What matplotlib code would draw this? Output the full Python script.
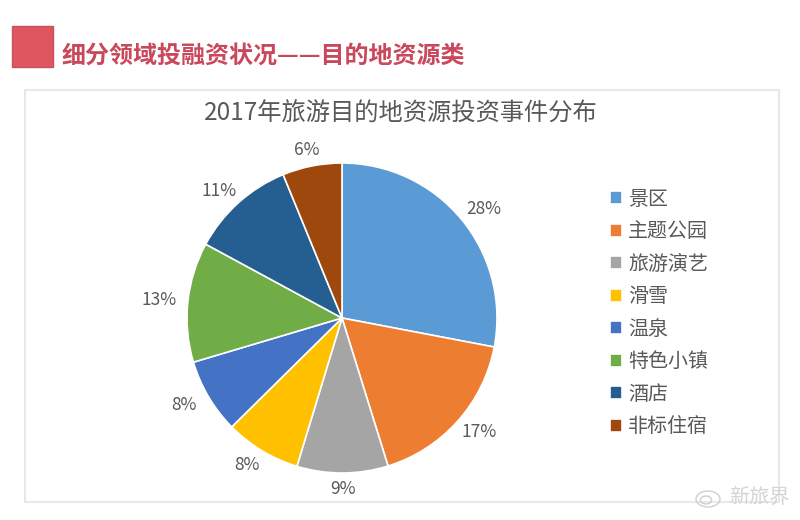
import matplotlib
matplotlib.use("Agg")
import matplotlib.pyplot as plt
from matplotlib.patches import Rectangle, Ellipse

plt.rcParams['font.family'] = ['Noto Sans CJK SC', 'DejaVu Sans']

categorias = ["景区", "主题公园", "旅游演艺", "滑雪", "温泉", "特色小镇", "酒店", "非标住宿"]
# share medido en la imagen, etiquetas como estan impresas
valores = [28.0, 17.2, 9.5, 7.9, 7.8, 12.5, 10.9, 6.2]
etiquetas = ["28%", "17%", "9%", "8%", "8%", "13%", "11%", "6%"]
colores = ["#5B9BD5", "#ED7D31", "#A5A5A5", "#FFC000", "#4472C4", "#70AD47", "#255E91", "#9E480E"]

titulo_pagina = "细分领域投融资状况——目的地资源类"
titulo_grafico = "2017年旅游目的地资源投资事件分布"
marca_agua = "新旅界"

W, H = 800, 520

fig = plt.figure(figsize=(W / 100, H / 100), dpi=100, facecolor="white")

# capa de fondo en pixeles (y hacia abajo)
fondo = fig.add_axes([0, 0, 1, 1])
fondo.set_xlim(0, W)
fondo.set_ylim(H, 0)
fondo.axis("off")

fondo.add_patch(Rectangle((12, 26), 41, 41, facecolor="#DF5560", edgecolor="#C9505C", linewidth=1))
fondo.text(62, 56, titulo_pagina, fontsize=17.3, fontweight="bold", color="#C9485B", ha="left", va="center")

# marco del grafico
fondo.add_patch(Rectangle((25, 90), 754, 412, facecolor="white", edgecolor="#E8E8E8", linewidth=1.5))
fondo.text(401, 114, titulo_grafico, fontsize=17.5, color="#595959", ha="center", va="center")

# torta
cx, cy, r = 342, 318, 155
ax = fig.add_axes([(cx - r) / W, (H - cy - r) / H, 2 * r / W, 2 * r / H])
wedges, _, pct = ax.pie(
    valores,
    colors=colores,
    startangle=90,
    counterclock=False,
    autopct="%d%%",
    pctdistance=1.14,
    wedgeprops={"linewidth": 1.2, "edgecolor": "white"},
    textprops={"fontsize": 12.5, "color": "#595959"},
)
ax.set_xlim(-1, 1)
ax.set_ylim(-1, 1)

# etiquetas un poco mas abiertas a los lados que arriba/abajo
for t, e in zip(pct, etiquetas):
    t.set_text(e)
    x, y = t.get_position()
    t.set_position((x * 1.04, y * 0.97))

# leyenda
fig.legend(
    wedges, categorias,
    loc="center left",
    bbox_to_anchor=(592 / W, (H - 313) / H),
    frameon=False,
    fontsize=14.4,
    labelcolor="#595959",
    handlelength=0.6,
    handleheight=0.6,
    handletextpad=0.3,
    labelspacing=0.575,
)

# marca de agua
fondo.text(759, 497, marca_agua, fontsize=14.5, color="#D4D4D4", ha="center", va="center", zorder=5)
fondo.add_patch(Ellipse((708, 499), 24, 16, facecolor="none", edgecolor="#CFCFCF", linewidth=1, zorder=5))
fondo.add_patch(Ellipse((706, 500), 11, 8, facecolor="none", edgecolor="#CFCFCF", linewidth=1, zorder=5))

fig.savefig("out.png", dpi=100)
plt.close(fig)
